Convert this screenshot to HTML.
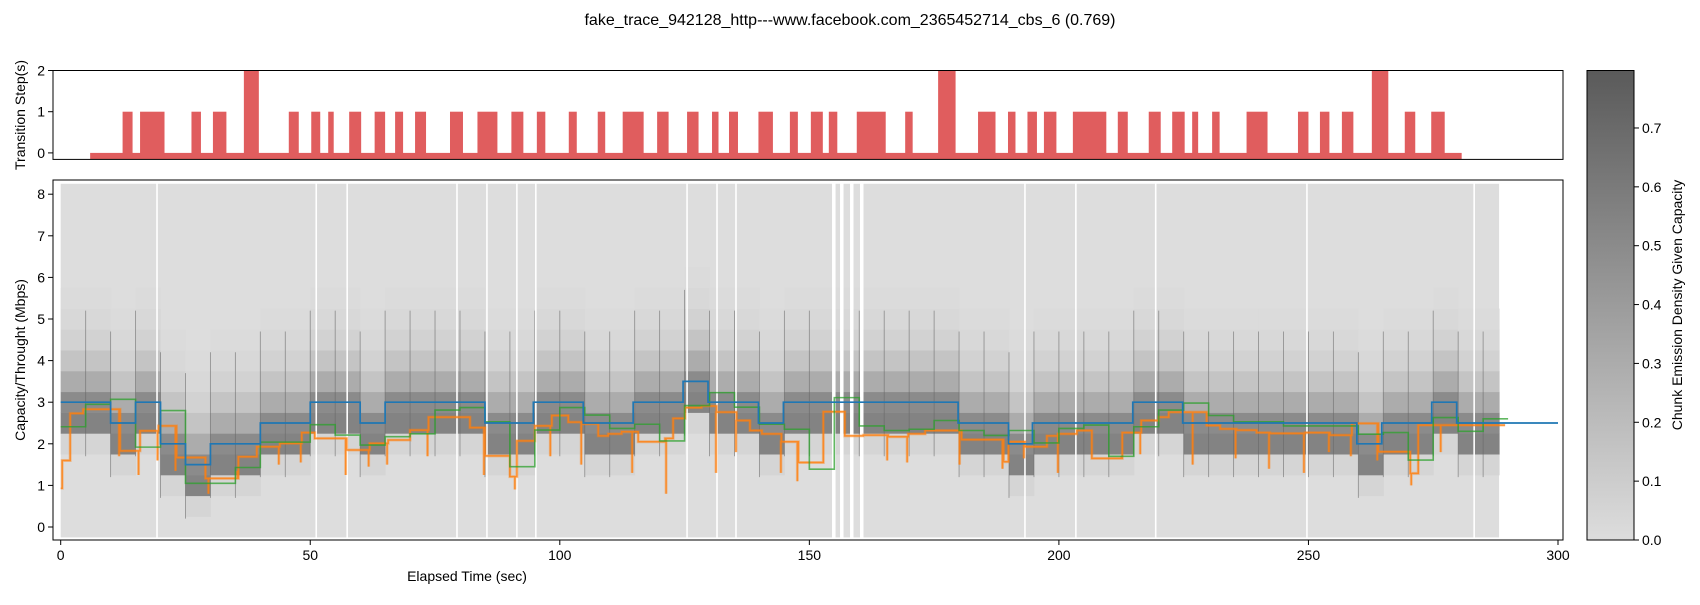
<!DOCTYPE html>
<html><head><meta charset="utf-8"><style>
body{margin:0;background:#fff;}
svg text{font-family:"Liberation Sans",sans-serif;fill:#000;}
</style></head><body>
<svg id="fig" width="1700" height="600" viewBox="0 0 1700 600" xmlns="http://www.w3.org/2000/svg">
<text x="850" y="25" font-size="16" text-anchor="middle">fake_trace_942128_http---www.facebook.com_2365452714_cbs_6 (0.769)</text>
<g id="topPanel"></g>
<g id="mainPanel"></g>
<g id="cbarPanel"></g>
</svg>
<script>
// ---- data ----
const stepStarts = [5.9,12.4,15.9,26.2,30.5,36.7,45.7,50.2,53.6,57.8,62.9,67.0,71.0,78.0,83.5,90.3,95.4,101.8,107.6,112.6,119.5,125.5,130.5,133.9,139.8,146.1,150.3,153.9,159.5,169.2,175.8,183.8,189.8,193.7,197.0,202.8,211.8,218.0,222.7,226.7,230.7,237.6,247.9,252.3,256.7,262.7,269.3,274.6];
const stepEnds   = [280.7,14.4,20.8,28.1,33.2,39.7,47.7,52.0,54.7,60.2,65.0,68.6,73.2,80.6,87.5,92.7,97.1,103.4,109.1,116.8,121.8,127.8,131.8,135.7,142.7,147.7,152.7,155.6,165.3,170.7,179.3,187.3,191.3,195.6,199.5,209.5,213.8,220.4,225.2,227.9,232.2,241.8,250.0,254.2,259.0,266.0,271.4,277.3];
const stepValues = [0,1,1,1,1,2,1,1,1,1,1,1,1,1,1,1,1,1,1,1,1,1,1,1,1,1,1,1,1,1,2,1,1,1,1,1,1,1,1,1,1,1,1,1,1,2,1,1];

const blueT = [0,10,15,20,25,30,40,50,60,65,80,85,94.7,104.7,114.7,124.7,129.7,139.8,144.8,179.8,189.9,194.7,214.8,224.8,259.7,264.7,274.7,279.7,300];
const blueV = [3,2.5,3,2,1.5,2,2.5,3,2.5,3,3,2.5,3,2.5,3,3.5,3,2.5,3,2.5,2,2.5,3,2.5,2,2.5,3,2.5,2.5];

const orangeT = [0,0.3,1.9,4.5,11.9,15.9,19.6,23.2,29,35.6,39.3,43.9,48.3,50.9,57.3,61.9,65.6,70,73.7,82,85,90,91.4,95.0,98.4,101.7,104.4,107.7,109.7,112.4,115.7,121.1,122.7,125.1,128.4,131.4,135.4,138.1,140.5,144.4,147.8,152.8,157.1,160.8,165.8,169.8,173.2,180.5,184.2,188.9,189.9,193.2,197.6,199.9,203.6,206.6,212.7,216.5,220,222,229.6,232.3,235.6,239.6,242.3,249.3,254.3,258.7,264,270.4,272,276.7,289.4];
const orangeV = [0.93,1.6,2.73,2.83,1.83,2.31,2.43,1.67,1.17,1.69,1.93,2.01,2.27,2.13,1.85,2.01,2.09,2.33,2.64,2.39,1.71,1.21,2.07,2.43,2.68,2.52,2.48,2.19,2.24,2.29,2.05,2.13,2.61,2.87,2.91,2.76,2.56,2.32,2.24,2.05,1.55,2.77,2.19,2.21,2.17,2.24,2.32,2.1,2.1,1.57,2.05,1.93,2.19,2.24,2.32,1.65,2.27,2.56,2.64,2.76,2.44,2.36,2.33,2.27,2.25,2.27,2.21,2.49,1.81,1.29,2.45,2.45,2.45];
const spikeT = [11.9,15.8,19.6,23.2,29.8,35.6,43.9,48.3,57.3,61.9,65.6,73.7,85,91.2,98.3,104.5,114.7,121.5,131.5,135.5,144.5,147.8,165.8,169.8,180.3,188.9,193.2,200,206.8,212.7,216.5,227,235.6,242.3,249.3,254.3,258.7,264,270.8,276.7];
const spikeV = [1.7,1.25,1.6,1.35,0.8,1.35,1.5,1.55,1.25,1.45,1.5,1.7,1.25,0.9,1.7,1.5,1.3,0.8,1.3,1.8,1.3,1.1,1.6,1.55,1.5,1.4,1.65,1.3,1.7,1.7,1.75,1.5,1.65,1.4,1.3,1.8,1.7,1.6,1.0,1.8];

const greenT = [0,5,10,15,20,25,35,40,50,55,60,65,70,75,80,85,90,95,100,105,110,115,120,125,130,135,140,145,150,155,160,165,170,175,180,185,190,195,200,205,210,215,220,225,230,235,245,260,265,270,275,280,285,290];
const greenV = [2.41,2.95,3.07,1.92,2.8,1.05,1.43,2.04,2.46,2.21,1.97,2.17,2.24,2.81,2.87,2.53,1.45,2.33,2.87,2.69,2.37,2.47,2.07,2.92,3.23,2.88,2.47,2.35,1.39,3.11,2.43,2.32,2.35,2.56,2.32,2.2,2.32,2.02,2.37,2.45,1.7,2.41,2.81,2.98,2.68,2.53,2.43,2.23,2.27,1.61,2.63,2.3,2.6,2.6];

const gapT = [19.3,51.2,57.4,79.4,85.4,91.4,95.2,125.5,131.5,135.3,249.7,283.2,193.2,203.4,219.4];
const wideGapT = [154.9,156.5,158.5,160.5];
const densOffsets = [-1.5,-1,-0.5,0,0.5,1,1.5,2,2.5,3];
const densValues  = [0.0,0.05,0.55,0.5,0.3,0.15,0.07,0.03,0.01,0.0];
const cbTicks = [0,0.1,0.2,0.3,0.4,0.5,0.6,0.7];
const xTicks = [0,50,100,150,200,250,300];
const yTicks = [0,1,2,3,4,5,6,7,8];
const topYTicks = [0,1,2];

// ---- scales ----
const NS='http://www.w3.org/2000/svg';
const X = s => 60.7 + s*4.991;
const YB = v => 527 - v*41.6;
const YT = v => 152.9 - v*41.2;
const CB = v => 540 - v*588.6;
function col(d){const t=Math.min(d/0.8,1);const c=Math.round(221-t*131);return `rgb(${c},${c},${c})`;}
function mk(parent,tag,attrs){const e=document.createElementNS(NS,tag);for(const k in attrs)e.setAttribute(k,attrs[k]);parent.appendChild(e);return e;}
const topG=document.getElementById('topPanel'), mainG=document.getElementById('mainPanel'), cbarG=document.getElementById('cbarPanel');

// ---- top panel ----
for(let i=0;i<stepStarts.length;i++){
  const r=mk(topG,'rect',{x:X(stepStarts[i]),y:YT(stepValues[i]),width:X(stepEnds[i])-X(stepStarts[i]),height:159.4-YT(stepValues[i]),fill:'rgb(224,93,94)'});
  
  
}
let f=mk(topG,'rect',{x:53,y:70.5,width:1510,height:88.9,fill:'none',stroke:'#000','stroke-width':1});


topYTicks.forEach(v=>{
  mk(topG,'line',{x1:48,x2:53,y1:YT(v),y2:YT(v),stroke:'#000'});
  const t=mk(topG,'text',{x:45,y:YT(v)+5,'font-size':14,'text-anchor':'end'});t.textContent=v;
  
  
});
let tl=mk(topG,'text',{x:0,y:0,'font-size':14,'text-anchor':'middle',transform:'translate(25,115) rotate(-90)'});tl.textContent='Transition Step(s)';



// ---- heatmap ----
function capAt(s){let v=blueV[0];for(let i=0;i<blueT.length;i++){if(blueT[i]<=s)v=blueV[i];}return v;}
const hm=mk(mainG,'g',{});


mk(hm,'rect',{x:X(0),y:YB(8.25),width:X(288.2)-X(0),height:YB(-0.25)-YB(8.25),fill:col(0)});
for(let s=0;s<288.2;s+=5){
  const e=Math.min(s+5,288.2), c=capAt(s+2.5);
  for(let k=0;k<densOffsets.length;k++){
    const b=c+densOffsets[k]; if(densValues[k]<=0)continue;
    const r=mk(hm,'rect',{x:X(s),y:YB(b+0.25),width:X(e)-X(s)+0.5,height:0.5*41.6+0.3,fill:col(densValues[k])});
    
    
  }
  if(s>0){mk(hm,'line',{x1:X(s),x2:X(s),y1:YB(c-1.3),y2:YB(c+2.2),stroke:'#666','stroke-width':0.9,opacity:0.6});}
}
gapT.forEach(g=>mk(hm,'line',{x1:X(g),x2:X(g),y1:YB(8.3),y2:YB(-0.3),stroke:'#fff','stroke-width':1.6}));
wideGapT.forEach(g=>mk(hm,'line',{x1:X(g),x2:X(g),y1:YB(8.3),y2:YB(-0.3),stroke:'#fff','stroke-width':3.5}));

// ---- lines ----
function stepPath(T,V){let d=`M${X(T[0])},${YB(V[0])}`;for(let i=1;i<T.length;i++){d+=`H${X(T[i])}V${YB(V[i])}`;}return d;}
let op;{let d=`M${X(orangeT[0])},${YB(orangeV[0])}`;for(let i=1;i<orangeT.length;i++){
  spikeT.forEach((st,j)=>{if(st>orangeT[i-1]&&st<=orangeT[i]){d+=`H${X(st)-1}V${YB(spikeV[j])}V${YB(orangeV[i-1])}`;}});
  d+=`H${X(orangeT[i])}V${YB(orangeV[i])}`;}op=d;}
let o1=mk(mainG,'path',{d:op,fill:'none',stroke:'#ff7f0e','stroke-width':3,opacity:0.35});


let o2=mk(mainG,'path',{d:op,fill:'none',stroke:'#ff7f0e','stroke-width':1.5,opacity:0.8});


let gl=mk(mainG,'path',{d:stepPath(greenT,greenV),fill:'none',stroke:'#2ca02c','stroke-width':1.6,opacity:0.75});


let bl=mk(mainG,'path',{d:stepPath(blueT,blueV),fill:'none',stroke:'#1f77b4','stroke-width':1.7});



// ---- main axes ----
let mf=mk(mainG,'rect',{x:53,y:180,width:1510,height:360,fill:'none',stroke:'#000','stroke-width':1});


yTicks.forEach(v=>{
  mk(mainG,'line',{x1:48,x2:53,y1:YB(v),y2:YB(v),stroke:'#000'});
  const t=mk(mainG,'text',{x:45,y:YB(v)+5,'font-size':14,'text-anchor':'end'});t.textContent=v;
  
  
});
xTicks.forEach(v=>{
  mk(mainG,'line',{x1:X(v),x2:X(v),y1:540,y2:545,stroke:'#000'});
  const t=mk(mainG,'text',{x:X(v),y:560,'font-size':14,'text-anchor':'middle'});t.textContent=v;
  
  
});
let xl=mk(mainG,'text',{x:467,y:581,'font-size':14,'text-anchor':'middle'});xl.textContent='Elapsed Time (sec)';


let yl=mk(mainG,'text',{x:0,y:0,'font-size':14,'text-anchor':'middle',transform:'translate(25,360) rotate(-90)'});yl.textContent='Capacity/Throught (Mbps)';



// ---- colorbar ----
const defs=mk(cbarG,'defs',{});const lg=mk(defs,'linearGradient',{id:'cg',x1:0,y1:1,x2:0,y2:0});
mk(lg,'stop',{offset:0,'stop-color':col(0)});mk(lg,'stop',{offset:1,'stop-color':col(0.8)});
let cr=mk(cbarG,'rect',{x:1587,y:70.5,width:47,height:469.5,fill:'url(#cg)',stroke:'#000','stroke-width':1});


cbTicks.forEach(v=>{
  mk(cbarG,'line',{x1:1634,x2:1639,y1:CB(v),y2:CB(v),stroke:'#000'});
  const t=mk(cbarG,'text',{x:1642,y:CB(v)+5,'font-size':14});t.textContent=v.toFixed(1);
  
  
});
let cl=mk(cbarG,'text',{x:0,y:0,'font-size':14,'text-anchor':'middle',transform:'translate(1682,305) rotate(-90)'});cl.textContent='Chunk Emission Density Given Capacity';


</script>
</body></html>
